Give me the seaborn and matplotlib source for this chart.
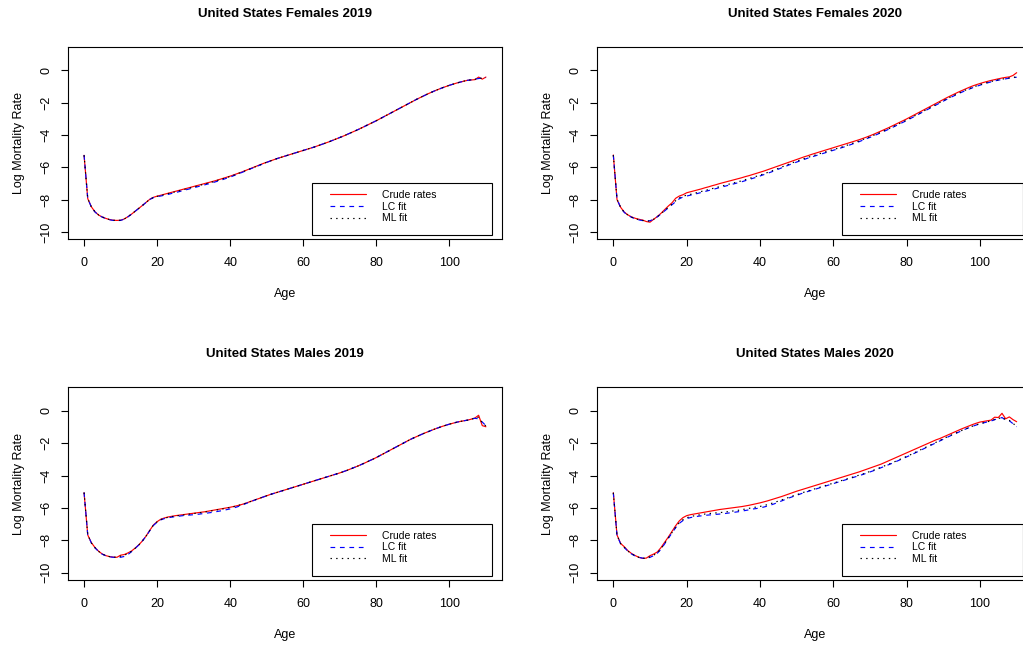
import pandas as pd
import matplotlib.pyplot as plt
import seaborn as sns
from matplotlib.patches import Rectangle

# --- data: log mortality rates by single year of age (0..110) ---
AGES = list(range(111))

F19_CRUDE = [-5.26, -7.94, -8.45, -8.76, -8.96, -9.08, -9.17, -9.24, -9.28, -9.29, -9.28,
             -9.20, -9.06, -8.90, -8.72, -8.54, -8.36, -8.17, -7.98, -7.86, -7.79,
             -7.73, -7.67, -7.61, -7.55, -7.49, -7.43, -7.37, -7.31, -7.25, -7.19,
             -7.13, -7.07, -7.01, -6.95, -6.89, -6.83, -6.76, -6.69, -6.62, -6.55,
             -6.47, -6.39, -6.31, -6.22, -6.13, -6.04, -5.95, -5.86, -5.77, -5.69,
             -5.61, -5.53, -5.45, -5.38, -5.31, -5.24, -5.17, -5.10, -5.03, -4.96,
             -4.89, -4.82, -4.75, -4.67, -4.59, -4.51, -4.43, -4.34, -4.25, -4.16,
             -4.07, -3.97, -3.87, -3.77, -3.67, -3.56, -3.45, -3.34, -3.23, -3.12,
             -3.00, -2.88, -2.76, -2.64, -2.52, -2.40, -2.28, -2.16, -2.04, -1.92,
             -1.80, -1.69, -1.58, -1.47, -1.37, -1.27, -1.18, -1.09, -1.01, -0.93,
             -0.86, -0.79, -0.73, -0.67, -0.62, -0.60, -0.58, -0.42, -0.55, -0.42]
F19_LC = [-5.25, -7.92, -8.47, -8.77, -8.97, -9.09, -9.18, -9.25, -9.29, -9.30, -9.29,
          -9.21, -9.07, -8.90, -8.72, -8.54, -8.36, -8.17, -7.99, -7.88, -7.82,
          -7.78, -7.73, -7.68, -7.62, -7.57, -7.51, -7.45, -7.39, -7.33, -7.27,
          -7.21, -7.15, -7.09, -7.03, -6.97, -6.90, -6.83, -6.76, -6.68, -6.61,
          -6.52, -6.43, -6.34, -6.25, -6.15, -6.06, -5.97, -5.88, -5.79, -5.70,
          -5.61, -5.53, -5.45, -5.38, -5.31, -5.24, -5.17, -5.10, -5.03, -4.96,
          -4.89, -4.82, -4.75, -4.67, -4.59, -4.51, -4.43, -4.34, -4.25, -4.16,
          -4.07, -3.97, -3.87, -3.77, -3.67, -3.56, -3.45, -3.34, -3.23, -3.12,
          -3.00, -2.88, -2.76, -2.64, -2.52, -2.40, -2.28, -2.16, -2.04, -1.92,
          -1.80, -1.69, -1.58, -1.47, -1.37, -1.27, -1.18, -1.09, -1.01, -0.93,
          -0.86, -0.79, -0.73, -0.67, -0.62, -0.59, -0.55, -0.51, -0.48, -0.45]
F19_ML = [-5.26, -7.93, -8.46, -8.76, -8.96, -9.08, -9.17, -9.24, -9.28, -9.29, -9.28,
          -9.20, -9.06, -8.90, -8.72, -8.54, -8.36, -8.17, -7.98, -7.87, -7.80,
          -7.75, -7.69, -7.63, -7.57, -7.52, -7.46, -7.40, -7.34, -7.28, -7.22,
          -7.16, -7.10, -7.04, -6.98, -6.92, -6.85, -6.78, -6.71, -6.64, -6.57,
          -6.49, -6.40, -6.32, -6.23, -6.14, -6.05, -5.96, -5.87, -5.78, -5.69,
          -5.61, -5.53, -5.45, -5.38, -5.31, -5.24, -5.17, -5.10, -5.03, -4.96,
          -4.89, -4.82, -4.75, -4.67, -4.59, -4.51, -4.43, -4.34, -4.25, -4.16,
          -4.07, -3.97, -3.87, -3.77, -3.67, -3.56, -3.45, -3.34, -3.23, -3.12,
          -3.00, -2.88, -2.76, -2.64, -2.52, -2.40, -2.28, -2.16, -2.04, -1.92,
          -1.80, -1.69, -1.58, -1.47, -1.37, -1.27, -1.18, -1.09, -1.01, -0.93,
          -0.86, -0.79, -0.73, -0.67, -0.62, -0.59, -0.56, -0.50, -0.49, -0.44]

F20_CRUDE = [-5.24, -8.00, -8.48, -8.78, -8.95, -9.08, -9.16, -9.22, -9.27, -9.36, -9.40,
             -9.22, -9.05, -8.85, -8.62, -8.40, -8.20, -7.92, -7.78, -7.70, -7.58,
             -7.52, -7.46, -7.40, -7.34, -7.27, -7.21, -7.14, -7.08, -7.01, -6.95,
             -6.89, -6.83, -6.77, -6.71, -6.65, -6.58, -6.52, -6.45, -6.38, -6.31,
             -6.24, -6.16, -6.08, -6.00, -5.92, -5.84, -5.76, -5.68, -5.60, -5.52,
             -5.44, -5.36, -5.29, -5.21, -5.14, -5.07, -5.00, -4.93, -4.86, -4.79,
             -4.72, -4.65, -4.58, -4.51, -4.44, -4.37, -4.30, -4.22, -4.14, -4.05,
             -3.96, -3.86, -3.76, -3.66, -3.56, -3.45, -3.34, -3.23, -3.12, -3.01,
             -2.89, -2.77, -2.65, -2.53, -2.41, -2.29, -2.17, -2.05, -1.93, -1.81,
             -1.69, -1.58, -1.47, -1.36, -1.26, -1.16, -1.06, -0.97, -0.89, -0.82,
             -0.75, -0.69, -0.63, -0.58, -0.53, -0.48, -0.44, -0.41, -0.32, -0.15]
F20_LC = [-5.25, -7.97, -8.50, -8.80, -8.98, -9.10, -9.19, -9.26, -9.30, -9.32, -9.31,
          -9.22, -9.07, -8.89, -8.70, -8.51, -8.32, -8.13, -7.95, -7.84, -7.78,
          -7.73, -7.68, -7.62, -7.56, -7.50, -7.44, -7.38, -7.32, -7.26, -7.20,
          -7.14, -7.08, -7.02, -6.96, -6.90, -6.83, -6.76, -6.69, -6.62, -6.54,
          -6.46, -6.38, -6.30, -6.21, -6.12, -6.03, -5.94, -5.85, -5.76, -5.68,
          -5.60, -5.52, -5.44, -5.37, -5.30, -5.23, -5.16, -5.09, -5.02, -4.95,
          -4.88, -4.81, -4.74, -4.66, -4.58, -4.50, -4.42, -4.33, -4.24, -4.15,
          -4.06, -3.96, -3.86, -3.76, -3.66, -3.55, -3.44, -3.33, -3.22, -3.11,
          -2.99, -2.87, -2.75, -2.63, -2.51, -2.39, -2.27, -2.15, -2.03, -1.91,
          -1.79, -1.68, -1.57, -1.46, -1.36, -1.26, -1.17, -1.08, -1.00, -0.92,
          -0.85, -0.78, -0.72, -0.66, -0.61, -0.57, -0.53, -0.49, -0.46, -0.43]
F20_ML = [-5.25, -7.98, -8.49, -8.79, -8.97, -9.09, -9.18, -9.25, -9.29, -9.33, -9.33,
          -9.22, -9.06, -8.88, -8.68, -8.48, -8.28, -8.07, -7.89, -7.79, -7.73,
          -7.68, -7.62, -7.56, -7.50, -7.44, -7.38, -7.32, -7.26, -7.20, -7.14,
          -7.08, -7.02, -6.96, -6.90, -6.84, -6.77, -6.70, -6.63, -6.56, -6.49,
          -6.41, -6.33, -6.25, -6.16, -6.07, -5.98, -5.89, -5.80, -5.71, -5.63,
          -5.55, -5.47, -5.39, -5.32, -5.25, -5.18, -5.11, -5.04, -4.97, -4.90,
          -4.84, -4.77, -4.70, -4.62, -4.54, -4.46, -4.38, -4.29, -4.20, -4.11,
          -4.02, -3.93, -3.83, -3.73, -3.63, -3.52, -3.41, -3.30, -3.19, -3.08,
          -2.96, -2.84, -2.72, -2.60, -2.48, -2.36, -2.24, -2.12, -2.00, -1.88,
          -1.76, -1.65, -1.54, -1.43, -1.33, -1.23, -1.14, -1.05, -0.97, -0.89,
          -0.82, -0.76, -0.70, -0.64, -0.59, -0.55, -0.51, -0.47, -0.44, -0.41]

M19_CRUDE = [-5.06, -7.67, -8.15, -8.45, -8.68, -8.85, -8.95, -9.01, -9.04, -9.05, -8.92,
             -8.88, -8.78, -8.66, -8.48, -8.28, -8.03, -7.73, -7.38, -7.05, -6.85,
             -6.70, -6.62, -6.56, -6.52, -6.48, -6.45, -6.42, -6.39, -6.36, -6.33,
             -6.30, -6.27, -6.24, -6.20, -6.16, -6.12, -6.08, -6.04, -6.00, -5.96,
             -5.91, -5.86, -5.80, -5.73, -5.65, -5.57, -5.49, -5.41, -5.33, -5.25,
             -5.17, -5.10, -5.03, -4.96, -4.89, -4.82, -4.75, -4.68, -4.61, -4.54,
             -4.47, -4.40, -4.33, -4.26, -4.19, -4.12, -4.05, -3.98, -3.91, -3.84,
             -3.76, -3.68, -3.59, -3.50, -3.41, -3.31, -3.21, -3.10, -3.00, -2.89,
             -2.77, -2.65, -2.53, -2.41, -2.29, -2.17, -2.05, -1.93, -1.81, -1.70,
             -1.60, -1.50, -1.40, -1.31, -1.22, -1.13, -1.05, -0.97, -0.90, -0.83,
             -0.77, -0.71, -0.66, -0.62, -0.58, -0.52, -0.45, -0.28, -0.92, -0.99]
M19_LC = [-5.05, -7.65, -8.17, -8.47, -8.70, -8.86, -8.96, -9.02, -9.05, -9.06, -9.05,
          -9.00, -8.88, -8.70, -8.50, -8.28, -8.03, -7.74, -7.40, -7.08, -6.88,
          -6.74, -6.66, -6.61, -6.57, -6.54, -6.51, -6.48, -6.46, -6.44, -6.42,
          -6.40, -6.37, -6.34, -6.31, -6.28, -6.24, -6.20, -6.16, -6.11, -6.06,
          -6.00, -5.93, -5.85, -5.76, -5.67, -5.58, -5.49, -5.41, -5.33, -5.25,
          -5.17, -5.10, -5.03, -4.96, -4.89, -4.82, -4.75, -4.68, -4.61, -4.54,
          -4.47, -4.40, -4.33, -4.26, -4.19, -4.12, -4.05, -3.98, -3.91, -3.84,
          -3.76, -3.68, -3.59, -3.50, -3.41, -3.31, -3.21, -3.10, -3.00, -2.89,
          -2.77, -2.65, -2.53, -2.41, -2.29, -2.17, -2.05, -1.93, -1.81, -1.70,
          -1.60, -1.50, -1.40, -1.31, -1.22, -1.13, -1.05, -0.97, -0.90, -0.83,
          -0.77, -0.71, -0.66, -0.62, -0.58, -0.50, -0.47, -0.50, -0.70, -0.92]
M19_ML = [-5.06, -7.66, -8.16, -8.46, -8.69, -8.85, -8.95, -9.01, -9.04, -9.05, -8.98,
          -8.92, -8.82, -8.68, -8.49, -8.28, -8.03, -7.73, -7.39, -7.06, -6.86,
          -6.72, -6.64, -6.58, -6.54, -6.50, -6.47, -6.44, -6.41, -6.38, -6.35,
          -6.32, -6.29, -6.26, -6.22, -6.18, -6.14, -6.10, -6.06, -6.02, -5.97,
          -5.92, -5.86, -5.80, -5.73, -5.65, -5.57, -5.49, -5.41, -5.33, -5.25,
          -5.17, -5.10, -5.03, -4.96, -4.89, -4.82, -4.75, -4.68, -4.61, -4.54,
          -4.47, -4.40, -4.33, -4.26, -4.19, -4.12, -4.05, -3.98, -3.91, -3.84,
          -3.76, -3.68, -3.59, -3.50, -3.41, -3.31, -3.21, -3.10, -3.00, -2.89,
          -2.77, -2.65, -2.53, -2.41, -2.29, -2.17, -2.05, -1.93, -1.81, -1.70,
          -1.60, -1.50, -1.40, -1.31, -1.22, -1.13, -1.05, -0.97, -0.90, -0.83,
          -0.77, -0.71, -0.66, -0.62, -0.58, -0.52, -0.47, -0.40, -0.75, -0.95]

M20_CRUDE = [-5.06, -7.67, -8.20, -8.40, -8.65, -8.82, -8.95, -9.05, -9.12, -9.10, -8.95,
             -8.85, -8.72, -8.45, -8.12, -7.80, -7.45, -7.10, -6.80, -6.60, -6.48,
             -6.42, -6.38, -6.34, -6.30, -6.26, -6.22, -6.18, -6.14, -6.10, -6.07,
             -6.04, -6.01, -5.98, -5.95, -5.92, -5.88, -5.84, -5.79, -5.74, -5.69,
             -5.63, -5.57, -5.50, -5.43, -5.36, -5.29, -5.21, -5.13, -5.05, -4.97,
             -4.90, -4.83, -4.76, -4.69, -4.62, -4.55, -4.48, -4.41, -4.34, -4.27,
             -4.20, -4.13, -4.06, -3.99, -3.92, -3.85, -3.78, -3.70, -3.62, -3.54,
             -3.46, -3.38, -3.30, -3.20, -3.10, -3.00, -2.90, -2.80, -2.70, -2.60,
             -2.50, -2.40, -2.30, -2.20, -2.10, -2.00, -1.90, -1.80, -1.72, -1.62,
             -1.52, -1.42, -1.32, -1.22, -1.12, -1.03, -0.94, -0.85, -0.77, -0.70,
             -0.66, -0.62, -0.58, -0.40, -0.42, -0.16, -0.50, -0.38, -0.55, -0.68]
M20_LC = [-5.07, -7.70, -8.22, -8.45, -8.68, -8.85, -8.97, -9.06, -9.10, -9.12, -9.05,
          -8.95, -8.80, -8.55, -8.22, -7.88, -7.55, -7.22, -6.95, -6.78, -6.66,
          -6.60, -6.56, -6.52, -6.49, -6.46, -6.44, -6.42, -6.40, -6.38, -6.36,
          -6.33, -6.30, -6.27, -6.24, -6.20, -6.16, -6.12, -6.07, -6.04, -6.00,
          -5.95, -5.89, -5.82, -5.74, -5.65, -5.56, -5.47, -5.38, -5.30, -5.22,
          -5.14, -5.06, -4.99, -4.92, -4.85, -4.78, -4.71, -4.64, -4.57, -4.50,
          -4.43, -4.36, -4.29, -4.22, -4.15, -4.08, -4.01, -3.94, -3.86, -3.78,
          -3.70, -3.61, -3.52, -3.43, -3.34, -3.25, -3.15, -3.05, -2.95, -2.85,
          -2.75, -2.64, -2.53, -2.42, -2.31, -2.20, -2.09, -1.98, -1.87, -1.76,
          -1.65, -1.54, -1.44, -1.34, -1.24, -1.14, -1.05, -0.96, -0.88, -0.81,
          -0.75, -0.69, -0.64, -0.55, -0.50, -0.42, -0.58, -0.62, -0.80, -0.99]
M20_ML = [-5.07, -7.69, -8.21, -8.44, -8.67, -8.84, -8.96, -9.06, -9.11, -9.11, -9.02,
          -8.92, -8.78, -8.52, -8.19, -7.85, -7.52, -7.19, -6.91, -6.73, -6.61,
          -6.54, -6.49, -6.45, -6.41, -6.38, -6.35, -6.33, -6.31, -6.29, -6.27,
          -6.24, -6.21, -6.18, -6.15, -6.11, -6.07, -6.03, -5.98, -5.95, -5.91,
          -5.86, -5.80, -5.73, -5.66, -5.58, -5.50, -5.42, -5.34, -5.26, -5.19,
          -5.11, -5.03, -4.96, -4.89, -4.82, -4.75, -4.68, -4.61, -4.54, -4.47,
          -4.40, -4.33, -4.26, -4.19, -4.12, -4.05, -3.98, -3.91, -3.83, -3.75,
          -3.67, -3.58, -3.49, -3.40, -3.31, -3.22, -3.12, -3.02, -2.92, -2.82,
          -2.72, -2.61, -2.50, -2.39, -2.28, -2.17, -2.06, -1.95, -1.84, -1.73,
          -1.62, -1.52, -1.42, -1.32, -1.22, -1.13, -1.04, -0.95, -0.87, -0.80,
          -0.74, -0.68, -0.63, -0.54, -0.49, -0.40, -0.56, -0.60, -0.78, -0.97]

TITLES = ["United States Females 2019", "United States Females 2020",
          "United States Males 2019", "United States Males 2020"]
SERIES = ["Crude rates", "LC fit", "ML fit"]
PANEL_DATA = [(F19_CRUDE, F19_LC, F19_ML), (F20_CRUDE, F20_LC, F20_ML),
              (M19_CRUDE, M19_LC, M19_ML), (M20_CRUDE, M20_LC, M20_ML)]

# --- styling (R base graphics look) ---
sns.set_style("ticks")
plt.rcParams['font.family'] = ['Liberation Sans', 'DejaVu Sans']
plt.rcParams.update({
    'axes.edgecolor': 'black',
    'axes.linewidth': 0.8,
    'text.color': 'black',
    'axes.labelcolor': 'black',
    'xtick.color': 'black',
    'ytick.color': 'black',
})

COLORS = {"Crude rates": "red", "LC fit": "blue", "ML fit": "black"}
DASHES = {"Crude rates": "", "LC fit": (4, 4), "ML fit": (1.2, 3.6)}

W, H = 1023, 651
# axes boxes in pixels: left, top, right, bottom
BOXES = [(68, 47, 502, 239), (597.2, 47, 1032.8, 239),
         (68, 387.4, 502, 579.8), (597.2, 387.4, 1032.8, 579.8)]

fig = plt.figure(figsize=(W / 100, H / 100), dpi=100)

for (l, t, r, b), title, (crude, lc, ml) in zip(BOXES, TITLES, PANEL_DATA):
    ax = fig.add_axes([l / W, 1 - b / H, (r - l) / W, (b - t) / H])
    df = pd.DataFrame({
        'Age': AGES * 3,
        'LogRate': crude + lc + ml,
        'Series': [s for s in SERIES for _ in AGES],
    })
    sns.lineplot(data=df, x='Age', y='LogRate', hue='Series', style='Series',
                 hue_order=SERIES, style_order=SERIES, palette=COLORS, dashes=DASHES,
                 estimator=None, sort=False, linewidth=0.85, legend=False, ax=ax)

    ax.set_xlim(-4.4, 114.4)
    ax.set_ylim(-10.44, 1.44)
    ax.set_xticks(range(0, 101, 20))
    ax.set_yticks(range(-10, 1, 2))
    ax.tick_params(axis='both', direction='out', length=5.2, width=0.8,
                   labelsize=9, color='black')
    ax.tick_params(axis='x', pad=8)
    ax.tick_params(axis='y', pad=6)
    for lab in ax.get_yticklabels():
        lab.set_rotation(90)
        lab.set_va('center')

    ax.set_xlabel('Age', fontsize=9)
    ax.set_ylabel('Log Mortality Rate', fontsize=9)
    ax.xaxis.set_label_coords(0.5, -0.255)
    ax.yaxis.set_label_coords(-0.1, 0.5)
    # title sits 34 px above the top of each box
    ax.set_title(title, fontsize=9.5, fontweight='bold', y=1 + 33 / (b - t), pad=0, va='center')

    # legend: framed box in the lower right, R style
    ax.add_patch(Rectangle((0.563, 0.021), 0.415, 0.269, transform=ax.transAxes,
                           fill=False, edgecolor='black', linewidth=0.8, zorder=5))
    ax.legend(ax.get_lines()[:3], SERIES, loc='upper left', bbox_to_anchor=(0.604, 0.255),
              borderpad=0, borderaxespad=0, frameon=False, fontsize=7.5,
              handlelength=3.4, handletextpad=1.6, labelspacing=0.15)

fig.savefig("out.png", dpi=100)
